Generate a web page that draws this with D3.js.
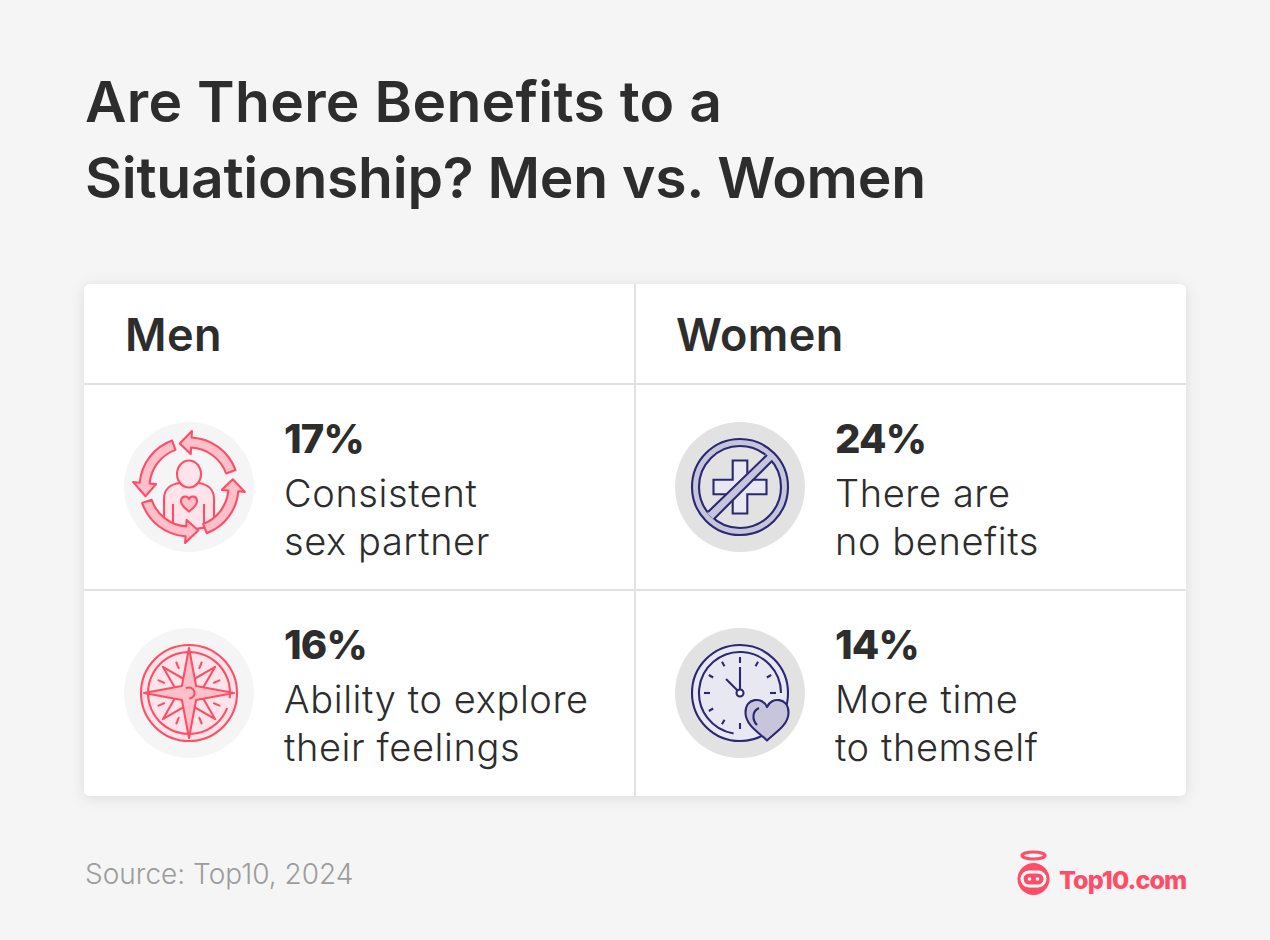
<!DOCTYPE html>
<html>
<head>
<meta charset="utf-8">
<script src="https://cdn.jsdelivr.net/npm/d3@7"></script>
<style>
  html, body { margin: 0; padding: 0; background: #f5f5f5; }
  svg { display: block; }
  text { font-family: Inter, "Noto Sans", sans-serif; fill: #2d2d2d; }
</style>
</head>
<body>
<script>
const titleLines = ["Are There Benefits to a", "Situationship? Men vs. Women"];
const groups = ["Men", "Women"];
const rowIds = [0, 1];
const menValues = [17, 16];
const menLabels = [["Consistent", "sex partner"], ["Ability to explore", "their feelings"]];
const womenValues = [24, 14];
const womenLabels = [["There are", "no benefits"], ["More time", "to themself"]];
const sourceText = "Source: Top10, 2024";
const logoText = "Top10.com";

const width = 1270;
const height = 940;

const coral = "#ff4d67", coralMid = "#ffc0ca", coralPale = "#ffe5e9";
const navy = "#2a2870", navyMid = "#c6c5dc", navyPale = "#e8e8f2";
const iconStroke = 2.1;
const titleWidths = [637, 841];

const svg = d3.select("body").append("svg")
    .attr("width", width)
    .attr("height", height)
    .attr("viewBox", [0, 0, width, height]);

svg.append("rect").attr("width", width).attr("height", height).attr("fill", "#f5f5f5");

const defs = svg.append("defs");
defs.append("filter").attr("id", "card-shadow")
    .attr("x", "-5%").attr("y", "-5%").attr("width", "110%").attr("height", "110%")
  .append("feDropShadow")
    .attr("dx", 0).attr("dy", 2).attr("stdDeviation", 7)
    .attr("flood-color", "#000").attr("flood-opacity", 0.1);

svg.append("g").selectAll("text")
  .data(titleLines)
  .join("text")
    .attr("x", 85)
    .attr("y", (d, i) => 122 + i * 76)
    .attr("font-size", 57)
    .attr("font-weight", 600)
    .attr("textLength", (d, i) => titleWidths[i])
    .attr("lengthAdjust", "spacing")
    .text(d => d);

// table frame
const x = d3.scaleBand().domain(groups).range([84, 1186]);
const y = d3.scaleBand().domain(rowIds).range([384, 796]);
const headerTop = 284;

svg.append("rect")
    .attr("x", x.range()[0])
    .attr("y", headerTop)
    .attr("width", x.range()[1] - x.range()[0])
    .attr("height", y.range()[1] - headerTop)
    .attr("rx", 6)
    .attr("fill", "#fff")
    .attr("filter", "url(#card-shadow)");

const gridColor = "#e2e2e2";
svg.append("line")
    .attr("x1", x("Women")).attr("x2", x("Women"))
    .attr("y1", headerTop).attr("y2", y.range()[1])
    .attr("stroke", gridColor).attr("stroke-width", 2);
svg.append("g").selectAll("line")
  .data(rowIds)
  .join("line")
    .attr("x1", x.range()[0]).attr("x2", x.range()[1])
    .attr("y1", d => y(d)).attr("y2", d => y(d))
    .attr("stroke", gridColor).attr("stroke-width", 2);

svg.append("g").selectAll("text")
  .data(groups)
  .join("text")
    .attr("x", d => x(d) + 41)
    .attr("y", 351)
    .attr("font-size", 45)
    .attr("font-weight", 600)
    .attr("letter-spacing", 0.4)
    .text(d => d);

const cells = groups.flatMap(group => rowIds.map(row => ({
  group,
  row,
  value: group === "Men" ? menValues[row] : womenValues[row],
  label: group === "Men" ? menLabels[row] : womenLabels[row]
})));

const cell = svg.append("g").selectAll("g")
  .data(cells)
  .join("g")
    .attr("transform", d => `translate(${x(d.group)},${y(d.row)})`);

cell.append("text")
    .attr("x", 200)
    .attr("y", 69)
    .attr("font-size", 40)
    .attr("font-weight", 800)
    .attr("letter-spacing", -0.8)
    .text(d => d.value + "%");

cell.append("g").selectAll("text")
  .data(d => d.label)
  .join("text")
    .attr("x", 200)
    .attr("y", (d, i) => 123 + i * 48)
    .attr("font-size", 38)
    .attr("font-weight", 300)
    .attr("letter-spacing", 0.6)
    .text(d => d);

// icons
const iconDrawers = { "Men0": cycleIcon, "Men1": compassIcon, "Women0": noCrossIcon, "Women1": clockIcon };
cell.each(function(d) {
  const g = d3.select(this).append("g").attr("transform", "translate(105,103)");
  g.append("circle").attr("r", 65).attr("fill", d.group === "Men" ? "#f5f5f5" : "#e2e2e2");
  iconDrawers[d.group + d.row](g);
});

function polar(r, deg) {
  const a = deg * Math.PI / 180;
  return [r * Math.sin(a), -r * Math.cos(a)];
}

function heartPath(s) {
  return `M0,${s * 0.95}C${-s * 0.35},${s * 0.6} ${-s},${s * 0.25} ${-s},${-s * 0.35}` +
    `C${-s},${-s * 1.05} ${-s * 0.2},${-s * 1.1} 0,${-s * 0.6}` +
    `C${s * 0.2},${-s * 1.1} ${s},${-s * 1.05} ${s},${-s * 0.35}` +
    `C${s},${s * 0.25} ${s * 0.35},${s * 0.6} 0,${s * 0.95}Z`;
}

function cycleIcon(g) {
  const st = { fill: coralPale, stroke: coral, "stroke-width": iconStroke, "stroke-linejoin": "round", "stroke-linecap": "round" };
  const apply = (sel, o) => { Object.entries(o).forEach(([k, v]) => sel.attr(k, v)); return sel; };
  apply(g.append("path").attr("d", "M-25,37V12C-25,2 -18,-3 -9,-4L9,-4C18,-3 25,2 25,12V37C12,44 -12,44 -25,37Z"), st);
  apply(g.append("ellipse").attr("cy", -13).attr("rx", 12).attr("ry", 13.5), st);
  apply(g.append("path").attr("d", heartPath(8)).attr("transform", "translate(0,17)"), { ...st, fill: coralMid });
  g.append("path").attr("d", "M-16,17V37M15,17V40").attr("fill", "none").attr("stroke", coral).attr("stroke-width", iconStroke);

  const arrows = [[70, 3, -12], [-20, -85, -102], [-109, -176, -192], [159, 95, 80]];
  arrows.forEach(([tail, base, tip]) => {
    const rm = 44.5, hw = 5, hh = 11.5;
    const arc = (r, from, to) => {
      const [ax, ay] = polar(r, to);
      return `A${r},${r} 0 0 ${to > from ? 1 : 0} ${ax},${ay}`;
    };
    const p0 = polar(rm + hw, tail), p1 = polar(rm + hh, base), p2 = polar(rm, tip), p3 = polar(rm - hh, base), p4 = polar(rm - hw, base), p5 = polar(rm - hw, tail);
    const d = `M${p0}${arc(rm + hw, tail, base)}L${p1}L${p2}L${p3}L${p4}${arc(rm - hw, base, tail)}L${p5}Z`;
    apply(g.append("path").attr("d", d), { ...st, fill: coralMid });
  });
}

function compassIcon(g) {
  g.append("circle").attr("r", 48).attr("fill", coralPale).attr("stroke", coral).attr("stroke-width", iconStroke);
  const inner = d3.arc().innerRadius(41).outerRadius(41).startAngle(2 * Math.PI * 0.31).endAngle(2 * Math.PI * 1.27);
  g.append("path").attr("d", inner()).attr("fill", "none").attr("stroke", coral).attr("stroke-width", iconStroke);

  d3.range(8).forEach(i => {
    const [x1, y1] = polar(27, 22.5 + i * 45), [x2, y2] = polar(33, 22.5 + i * 45);
    g.append("line").attr("x1", x1).attr("y1", y1).attr("x2", x2).attr("y2", y2)
        .attr("stroke", coral).attr("stroke-width", iconStroke).attr("stroke-linecap", "round");
  });

  const star = (tipR, waistR, offset) => d3.range(8).map(i => polar(i % 2 ? waistR : tipR, offset + i * 45)).join("L");
  g.append("path").attr("d", `M${star(37, 11, 45)}Z`)
      .attr("fill", coralPale).attr("stroke", coral).attr("stroke-width", iconStroke).attr("stroke-linejoin", "round");
  g.append("path").attr("d", `M${star(45, 10, 0)}Z`)
      .attr("fill", coralMid).attr("stroke", coral).attr("stroke-width", iconStroke).attr("stroke-linejoin", "round");
  const hub = d3.arc().innerRadius(5.5).outerRadius(5.5).startAngle(-0.6).endAngle(3.1);
  g.append("path").attr("d", hub()).attr("fill", "none").attr("stroke", coral).attr("stroke-width", iconStroke).attr("stroke-linecap", "round");
}

function noCrossIcon(g) {
  g.append("circle").attr("r", 48).attr("fill", navyMid).attr("stroke", navy).attr("stroke-width", iconStroke);
  g.append("circle").attr("r", 41).attr("fill", "#e2e2e2");
  g.append("path")
      .attr("d", "M-7.3,-26.5H7.3V-7.3H26.5V7.3H7.3V26.5H-7.3V7.3H-26.5V-7.3H-7.3Z")
      .attr("fill", navyPale).attr("stroke", navy).attr("stroke-width", iconStroke);
  g.append("circle").attr("r", 41).attr("fill", "none").attr("stroke", navy).attr("stroke-width", iconStroke);
  g.append("path").attr("d", "M-33,26L27,-34L33,-28L-27,32Z").attr("fill", navyMid);
  g.append("path").attr("d", "M-32,25L27,-32M-26,32L32,-26")
      .attr("fill", "none").attr("stroke", navy).attr("stroke-width", iconStroke);
}

function clockIcon(g) {
  g.append("circle").attr("r", 48).attr("fill", navyPale).attr("stroke", navy).attr("stroke-width", iconStroke);
  const inner = d3.arc().innerRadius(41).outerRadius(41).startAngle(Math.PI * 1.05).endAngle(Math.PI * 2.5);
  g.append("path").attr("d", inner()).attr("fill", "none").attr("stroke", navy).attr("stroke-width", iconStroke);
  d3.range(12).forEach(i => {
    const [x1, y1] = polar(i % 3 ? 31 : 30, i * 30), [x2, y2] = polar(36, i * 30);
    g.append("line").attr("x1", x1).attr("y1", y1).attr("x2", x2).attr("y2", y2)
        .attr("stroke", navy).attr("stroke-width", iconStroke);
  });
  g.append("path").attr("d", "M0,-26V-4M-14,-14L-2.5,-2.5").attr("fill", "none").attr("stroke", navy).attr("stroke-width", iconStroke);
  g.append("circle").attr("r", 3.5).attr("fill", "#fff").attr("stroke", navy).attr("stroke-width", iconStroke);
  const heart = g.append("g").attr("transform", "translate(27,27)");
  heart.append("path").attr("d", heartPath(21.5)).attr("fill", navyMid).attr("stroke", navy).attr("stroke-width", iconStroke).attr("stroke-linejoin", "round");
  heart.append("path").attr("d", "M-10,5C-15,0 -15,-9 -8,-12").attr("fill", "none").attr("stroke", navy).attr("stroke-width", iconStroke);
}

// footer
svg.append("text")
    .attr("x", 85)
    .attr("y", 884)
    .attr("font-size", 28)
    .attr("font-weight", 300)
    .style("fill", "#9c9c9c")
    .text(sourceText);

const logo = svg.append("g").attr("transform", "translate(1033.5,879)");
logo.append("ellipse").attr("cy", -23.5).attr("rx", 11.5).attr("ry", 3.5).attr("fill", "none").attr("stroke", coral).attr("stroke-width", 3.2);
logo.append("circle").attr("r", 16).attr("fill", coral);
logo.append("rect").attr("x", -11.5).attr("y", -7).attr("width", 23).attr("height", 14).attr("rx", 7).attr("fill", coral).attr("stroke", "#fff").attr("stroke-width", 3);
logo.selectAll(".eye").data([-4, 4]).join("circle").attr("class", "eye").attr("cx", d => d).attr("r", 1.8).attr("fill", "#fff");

svg.append("text")
    .attr("x", 1059)
    .attr("y", 889)
    .attr("font-size", 25)
    .attr("font-weight", 800)
    .attr("letter-spacing", -0.9)
    .style("fill", coral)
    .text(logoText);
</script>
</body>
</html>
